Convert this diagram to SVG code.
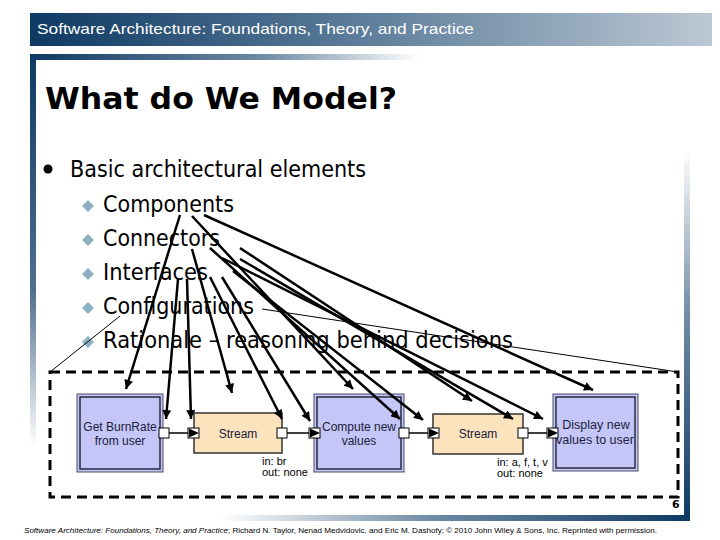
<svg xmlns="http://www.w3.org/2000/svg" width="720" height="540" viewBox="0 0 720 540">
<defs>
<linearGradient id="gHead" x1="0" y1="0" x2="1" y2="0"><stop offset="0" stop-color="#0e3963"/><stop offset="0.5" stop-color="#5f7f9c"/><stop offset="1" stop-color="#bcc8d4"/></linearGradient>
<linearGradient id="gBar2" x1="0" y1="0" x2="1" y2="0"><stop offset="0" stop-color="#0e3963"/><stop offset="0.6" stop-color="#6f8ba5"/><stop offset="1" stop-color="#ffffff"/></linearGradient>
<linearGradient id="gLeft" x1="0" y1="0" x2="0" y2="1"><stop offset="0" stop-color="#0e3963"/><stop offset="0.6" stop-color="#4f6f8e"/><stop offset="1" stop-color="#ffffff"/></linearGradient>
<linearGradient id="gRight" x1="0" y1="0" x2="0" y2="1"><stop offset="0" stop-color="#ffffff"/><stop offset="0.45" stop-color="#6f8ba5"/><stop offset="1" stop-color="#0e3963"/></linearGradient>
<linearGradient id="gBottom" x1="0" y1="0" x2="1" y2="0"><stop offset="0" stop-color="#ffffff"/><stop offset="0.45" stop-color="#6f8ba5"/><stop offset="1" stop-color="#0e3963"/></linearGradient>
<marker id="ah" viewBox="0 0 10 10" refX="10" refY="5" markerWidth="11" markerHeight="9" markerUnits="userSpaceOnUse" orient="auto"><path d="M0,0 L10,5 L0,10 z" fill="#000"/></marker>
</defs>
<style>
.hdr{font-family:"Liberation Sans",Arial,sans-serif;font-size:15px;fill:#fff}
.ttl{font-family:"DejaVu Sans",Verdana,sans-serif;font-size:30px;font-weight:bold;fill:#000}
.bul{font-family:"DejaVu Sans",Verdana,sans-serif;font-size:23px;fill:#000}
.dia{fill:#8fb2c3}
.lbl{font-family:"Liberation Sans",Arial,sans-serif;font-size:12px;fill:#1c1c3c;text-anchor:middle}
.small{font-family:"Liberation Sans",Arial,sans-serif;font-size:11px;fill:#000}
.comp{fill:#c3c6f6;stroke:#4a4a6a;stroke-width:1}
.compin{fill:none;stroke:#2a2a40;stroke-width:1.5}
.conn{fill:#fbe3bd;stroke:#333;stroke-width:1.5}
.port{fill:#fff;stroke:#000;stroke-width:1}
.link{stroke:#000;stroke-width:1.3;fill:none}
.arr{stroke:#000;stroke-width:2.5;fill:none;marker-end:url(#ah)}
.thin{stroke:#000;stroke-width:1;fill:none}
.foot{font-family:"Liberation Sans",Arial,sans-serif;font-size:8px;fill:#000}
</style>
<rect width="720" height="540" fill="#fff"/>
<!-- slide frame -->
<rect x="30" y="13" width="682" height="33" fill="url(#gHead)"/>
<text class="hdr" x="37" y="34" textLength="437" lengthAdjust="spacingAndGlyphs">Software Architecture: Foundations, Theory, and Practice</text>
<rect x="30" y="54" width="390" height="6" fill="url(#gBar2)"/>
<rect x="30" y="54" width="6" height="392" fill="url(#gLeft)"/>
<rect x="684" y="150" width="6" height="371" fill="url(#gRight)"/>
<rect x="220" y="515" width="470" height="6" fill="url(#gBottom)"/>
<text class="ttl" x="45" y="109" textLength="352" lengthAdjust="spacingAndGlyphs">What do We Model?</text>
<!-- bullets -->
<circle cx="48" cy="169" r="4.5" fill="#000"/>
<text class="bul" x="70" y="177" textLength="296" lengthAdjust="spacingAndGlyphs">Basic architectural elements</text>
<path class="dia" d="M88,200 l6,6 l-6,6 l-6,-6 z"/>
<text class="bul" x="103" y="212" textLength="131" lengthAdjust="spacingAndGlyphs">Components</text>
<path class="dia" d="M88,234 l6,6 l-6,6 l-6,-6 z"/>
<text class="bul" x="103" y="246" textLength="117" lengthAdjust="spacingAndGlyphs">Connectors</text>
<path class="dia" d="M88,268 l6,6 l-6,6 l-6,-6 z"/>
<text class="bul" x="103" y="280" textLength="105" lengthAdjust="spacingAndGlyphs">Interfaces</text>
<path class="dia" d="M88,302 l6,6 l-6,6 l-6,-6 z"/>
<text class="bul" x="103" y="314" textLength="151" lengthAdjust="spacingAndGlyphs">Configurations</text>
<path class="dia" d="M88,336 l6,6 l-6,6 l-6,-6 z"/>
<text class="bul" x="103" y="348" textLength="410" lengthAdjust="spacingAndGlyphs">Rationale – reasoning behind decisions</text>
<!-- configuration boundary -->
<rect x="50" y="372" width="628" height="125" fill="none" stroke="#000" stroke-width="3" stroke-dasharray="10,6"/>
<!-- nodes -->
<g id="getBurnRate">
<rect class="comp" x="77" y="394" width="86" height="78"/>
<rect class="compin" x="80" y="397" width="80" height="72"/>
<text class="lbl" x="120" y="431">Get BurnRate</text>
<text class="lbl" x="120" y="445">from user</text>
<rect class="port" x="159" y="428" width="10" height="10"/>
</g>
<g id="stream1">
<rect class="conn" x="194" y="413" width="88" height="40"/>
<text class="lbl" x="238" y="438">Stream</text>
<rect class="port" x="188" y="428" width="11" height="10"/>
<path d="M189,428.5 L199,433 L189,437.5 z" fill="#000"/>
<rect class="port" x="277" y="428" width="10" height="10"/>
<text class="small" x="262" y="465">in: br</text>
<text class="small" x="262" y="476">out: none</text>
</g>
<g id="computeNewValues">
<rect class="comp" x="314" y="394" width="90" height="78"/>
<rect class="compin" x="317" y="397" width="84" height="72"/>
<text class="lbl" x="359" y="431">Compute new</text>
<text class="lbl" x="359" y="445">values</text>
<rect class="port" x="309" y="428" width="11" height="10"/>
<path d="M310,428.5 L320,433 L310,437.5 z" fill="#000"/>
<rect class="port" x="399" y="428" width="10" height="10"/>
</g>
<g id="stream2">
<rect class="conn" x="433" y="414" width="90" height="40"/>
<text class="lbl" x="478" y="438">Stream</text>
<rect class="port" x="428" y="428" width="11" height="10"/>
<path d="M429,428.5 L439,433 L429,437.5 z" fill="#000"/>
<rect class="port" x="518" y="428" width="10" height="10"/>
<text class="small" x="497" y="466">in: a, f, t, v</text>
<text class="small" x="497" y="477">out: none</text>
</g>
<g id="displayNewValues">
<rect class="comp" x="553" y="394" width="85" height="77"/>
<rect class="compin" x="556" y="397" width="79" height="71"/>
<text class="lbl" x="596" y="429" style="font-size:12.5px">Display new</text>
<text class="lbl" x="595" y="444" style="font-size:12.5px">values to user</text>
<rect class="port" x="547" y="428" width="11" height="10"/>
<path d="M548,428.5 L558,433 L548,437.5 z" fill="#000"/>
</g>
<g id="connectors">
<path class="link" d="M169,433 H188 M287,433 H309 M409,433 H428 M528,433 H547"/>
<path class="arr" d="M180,215 L126,389"/>
<path class="arr" d="M192,216 L353,389"/>
<path class="arr" d="M204,215 L593,390"/>
<path class="arr" d="M192,249 L232,393"/>
<path class="arr" d="M240,248 L472,401"/>
<path class="arr" d="M178,279 L166,419"/>
<path class="arr" d="M187,279 L191,419"/>
<path class="arr" d="M210,277 L282,419"/>
<path class="arr" d="M222,277 L310,421"/>
<path class="arr" d="M210,248 L400,419"/>
<path class="arr" d="M233,271 L423,420"/>
<path class="arr" d="M240,259 L513,419"/>
<path class="arr" d="M222,258 L543,419"/>
<path class="thin" d="M120,316 L50,372"/>
<path class="thin" d="M262,309 L678,372"/>
</g>
<text x="672" y="508" style="font-family:'DejaVu Sans',sans-serif;font-size:11px;font-weight:bold">6</text>
<text class="foot" x="24" y="533" textLength="633" lengthAdjust="spacingAndGlyphs"><tspan font-style="italic">Software Architecture: Foundations, Theory, and Practice</tspan>; Richard N. Taylor, Nenad Medvidovic, and Eric M. Dashofy; © 2010 John Wiley &amp; Sons, Inc. Reprinted with permission.</text>
</svg>
